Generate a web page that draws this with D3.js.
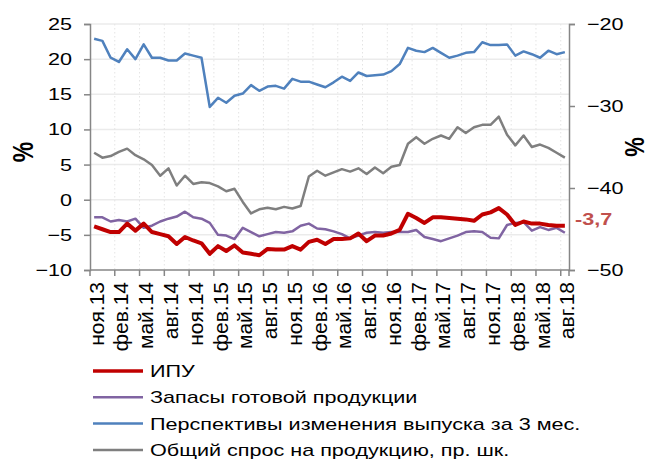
<!DOCTYPE html>
<html>
<head>
<meta charset="utf-8">
<script src="https://d3js.org/d3.v7.min.js"></script>
<style>
	body { margin: 0; background: #fff; }
	text { font-family: "Liberation Sans", Arial, sans-serif; fill: #000; }
</style>
</head>
<body>
<svg width="650" height="461"></svg>
<script>
// months, ноя.13 .. авг.18
const months = [
	"ноя.13","дек.13","янв.14","фев.14","мар.14","апр.14","май.14","июн.14","июл.14","авг.14","сен.14","окт.14",
	"ноя.14","дек.14","янв.15","фев.15","мар.15","апр.15","май.15","июн.15","июл.15","авг.15","сен.15","окт.15",
	"ноя.15","дек.15","янв.16","фев.16","мар.16","апр.16","май.16","июн.16","июл.16","авг.16","сен.16","окт.16",
	"ноя.16","дек.16","янв.17","фев.17","мар.17","апр.17","май.17","июн.17","июл.17","авг.17","сен.17","окт.17",
	"ноя.17","дек.17","янв.18","фев.18","мар.18","апр.18","май.18","июн.18","июл.18","авг.18"
];

// ИПУ, left axis
const ipu = [-3.8,-4.2,-4.6,-4.6,-3.4,-4.4,-3.4,-4.6,-4.9,-5.2,-6.3,-5.3,-5.8,-6.2,-7.7,-6.6,-7.3,-6.5,-7.5,-7.7,
	-7.9,-7.0,-7.1,-7.1,-6.6,-7.1,-6.0,-5.7,-6.3,-5.6,-5.6,-5.5,-4.8,-5.9,-5.1,-5.1,-4.8,-4.3,-2.0,-2.6,
	-3.3,-2.5,-2.5,-2.6,-2.7,-2.8,-3.0,-2.1,-1.8,-1.2,-2.1,-3.6,-3.1,-3.4,-3.4,-3.6,-3.7,-3.7];
// Запасы готовой продукции, left axis
const stocks = [-2.5,-2.5,-3.1,-2.9,-3.1,-2.7,-4.0,-3.7,-3.1,-2.7,-2.4,-1.7,-2.5,-2.7,-3.3,-5.0,-5.1,-5.6,-4.0,-4.6,
	-5.2,-4.9,-4.6,-4.7,-4.5,-3.7,-3.4,-4.1,-4.2,-4.5,-4.9,-5.5,-5.1,-4.7,-4.6,-4.7,-4.6,-4.6,-4.6,-4.3,
	-5.3,-5.6,-5.9,-5.5,-5.1,-4.6,-4.5,-4.6,-5.4,-5.5,-3.6,-3.3,-3.2,-4.4,-3.9,-4.3,-4.0,-4.7];
// Перспективы изменения выпуска за 3 мес., left axis
const outlook = [22.9,22.6,20.2,19.6,21.4,20.0,22.1,20.2,20.2,19.8,19.8,20.8,20.5,20.2,13.2,14.5,13.8,14.8,15.1,16.3,
	15.5,16.1,16.2,15.8,17.2,16.8,16.8,16.4,16.0,16.7,17.5,16.9,18.1,17.6,17.7,17.8,18.3,19.3,21.6,21.2,
	21.0,21.6,20.9,20.2,20.5,20.9,21.0,22.4,22.0,22.0,22.1,20.5,21.1,20.7,20.2,21.2,20.7,21.0];
// Общий спрос на продукцию, right axis
const demand = [-35.7,-36.3,-36.1,-35.6,-35.2,-36.0,-36.5,-37.2,-38.5,-37.6,-39.7,-38.5,-39.5,-39.3,-39.4,-39.8,-40.4,-40.1,-41.7,-43.1,
	-42.6,-42.4,-42.6,-42.3,-42.5,-42.2,-38.6,-37.9,-38.5,-38.1,-37.7,-38.0,-37.6,-38.3,-37.5,-38.2,-37.4,-37.2,-34.6,-33.8,
	-34.6,-34.0,-33.6,-34.0,-32.6,-33.3,-32.6,-32.3,-32.3,-31.3,-33.5,-34.8,-33.6,-35.0,-34.7,-35.1,-35.7,-36.3];

const leftTicks = [25, 20, 15, 10, 5, 0, -5, -10];
const rightTicks = [-20, -30, -40, -50];
const lastLabel = "-3,7";

const series = [
	{ name: "ИПУ", values: ipu, axis: "L", color: "#C00000", width: 4 },
	{ name: "Запасы готовой продукции", values: stocks, axis: "L", color: "#8064A2", width: 2.5 },
	{ name: "Перспективы изменения выпуска за 3 мес.", values: outlook, axis: "L", color: "#4F81BD", width: 2.5 },
	{ name: "Общий спрос на продукцию, пр. шк.", values: demand, axis: "R", color: "#7F7F7F", width: 2.5 }
];

const svg = d3.select("svg");
const plotL = 90, plotR = 569, plotT = 24, plotB = 270;
const stretch = 1.27; // the picture's text is wider than it is tall

const x = d3.scaleBand().domain(months).range([plotL, plotR]);
const yL = d3.scaleLinear().domain([-10, 25]).range([plotB, plotT]);
const yR = d3.scaleLinear().domain([-50, -20]).range([plotB, plotT]);

// grid
svg.append("g").selectAll("line")
	.data(leftTicks.filter(d => d > -10))
	.enter().append("line")
	.attr("x1", plotL).attr("x2", plotR)
	.attr("y1", d => yL(d)).attr("y2", d => yL(d))
	.attr("stroke", "#ebebeb").attr("stroke-width", 1.5);

const bounds = months.map((m, i) => i).filter(i => i % 3 == 0 && i > 0);
svg.append("g").selectAll("line")
	.data(bounds)
	.enter().append("line")
	.attr("x1", d => x(months[d])).attr("x2", d => x(months[d]))
	.attr("y1", plotT).attr("y2", plotB)
	.attr("stroke", "#e4e4e4").attr("stroke-width", 1)
	.attr("stroke-dasharray", "1.5,2.5");

// axes
const axisColor = "#868686";
const gL = svg.append("g").attr("transform", "translate(" + plotL + ",0)")
	.call(d3.axisLeft(yL).tickValues(leftTicks).tickSize(6).tickFormat(d3.format("d")));
const gR = svg.append("g").attr("transform", "translate(" + plotR + ",0)")
	.call(d3.axisRight(yR).tickValues(rightTicks).tickSize(6).tickFormat(d3.format("d")));
[gL, gR].forEach(g => {
	g.select(".domain").attr("stroke", axisColor).attr("stroke-width", 1.5);
	g.selectAll(".tick line").attr("stroke", axisColor).attr("stroke-width", 1.5);
	g.selectAll(".tick text").attr("font-size", 17).attr("font-family", "Liberation Sans, Arial, sans-serif").attr("fill", "#000");
});
gL.selectAll(".tick text").attr("x", 0).attr("transform", "translate(-18,0) scale(" + stretch + ",1)");
gR.selectAll(".tick text").attr("x", 0).attr("transform", "translate(18,0) scale(" + stretch + ",1)");

// bottom axis: ticks between categories every 3 months
const gX = svg.append("g");
gX.append("line").attr("x1", plotL).attr("x2", plotR).attr("y1", plotB).attr("y2", plotB)
	.attr("stroke", axisColor).attr("stroke-width", 1.5);
gX.selectAll(".xt").data([0].concat(bounds, [months.length]))
	.enter().append("line")
	.attr("x1", d => d < months.length ? x(months[d]) : plotR)
	.attr("x2", d => d < months.length ? x(months[d]) : plotR)
	.attr("y1", plotB).attr("y2", plotB + 6)
	.attr("stroke", axisColor).attr("stroke-width", 1.5);
gX.selectAll("text").data(months.filter((m, i) => i % 3 == 0))
	.enter().append("text")
	.attr("transform", d => "translate(" + (x(d) + x.bandwidth() / 2 + 9.5) + "," + (plotB + 12) + ") rotate(-90)")
	.attr("text-anchor", "end")
	.attr("font-size", 21)
	.text(d => d);

// lines
const order = [series[3], series[2], series[1], series[0]];
order.forEach(s => {
	const yy = s.axis == "L" ? yL : yR;
	const line = d3.line()
		.x((d, i) => x(months[i]) + x.bandwidth() / 2)
		.y(d => yy(d));
	svg.append("path")
		.datum(s.values)
		.attr("d", line)
		.attr("fill", "none")
		.attr("stroke", s.color)
		.attr("stroke-width", s.width)
		.attr("stroke-linejoin", "round");
});

// last value label
svg.append("text")
	.attr("transform", "translate(575," + (yL(ipu[ipu.length - 1]) - 7) + ") scale(" + stretch + ",1)")
	.attr("dy", "0.35em")
	.attr("font-size", 17).attr("font-weight", "bold")
	.style("fill", "#C0504D")
	.text(lastLabel);

// axis titles
svg.append("text").attr("transform", "translate(33,152) scale(" + stretch + ",1) rotate(-90)")
	.attr("text-anchor", "middle").attr("font-size", 23).attr("font-weight", "bold").text("%");
svg.append("text").attr("transform", "translate(644,147) scale(" + stretch + ",1) rotate(-90)")
	.attr("text-anchor", "middle").attr("font-size", 22).attr("font-weight", "bold").text("%");

// legend
const legend = svg.append("g").selectAll("g")
	.data(series).enter().append("g")
	.attr("transform", (d, i) => "translate(93," + (371 + i * 26.3) + ")");
legend.append("line").attr("x1", 0).attr("x2", 50)
	.attr("stroke", d => d.color).attr("stroke-width", d => d.width == 4 ? 3.5 : 2.5);
legend.append("text")
	.attr("transform", "translate(57,0) scale(" + stretch + ",1)")
	.attr("dy", "0.35em").attr("font-size", 17)
	.text(d => d.name);
</script>
</body>
</html>
